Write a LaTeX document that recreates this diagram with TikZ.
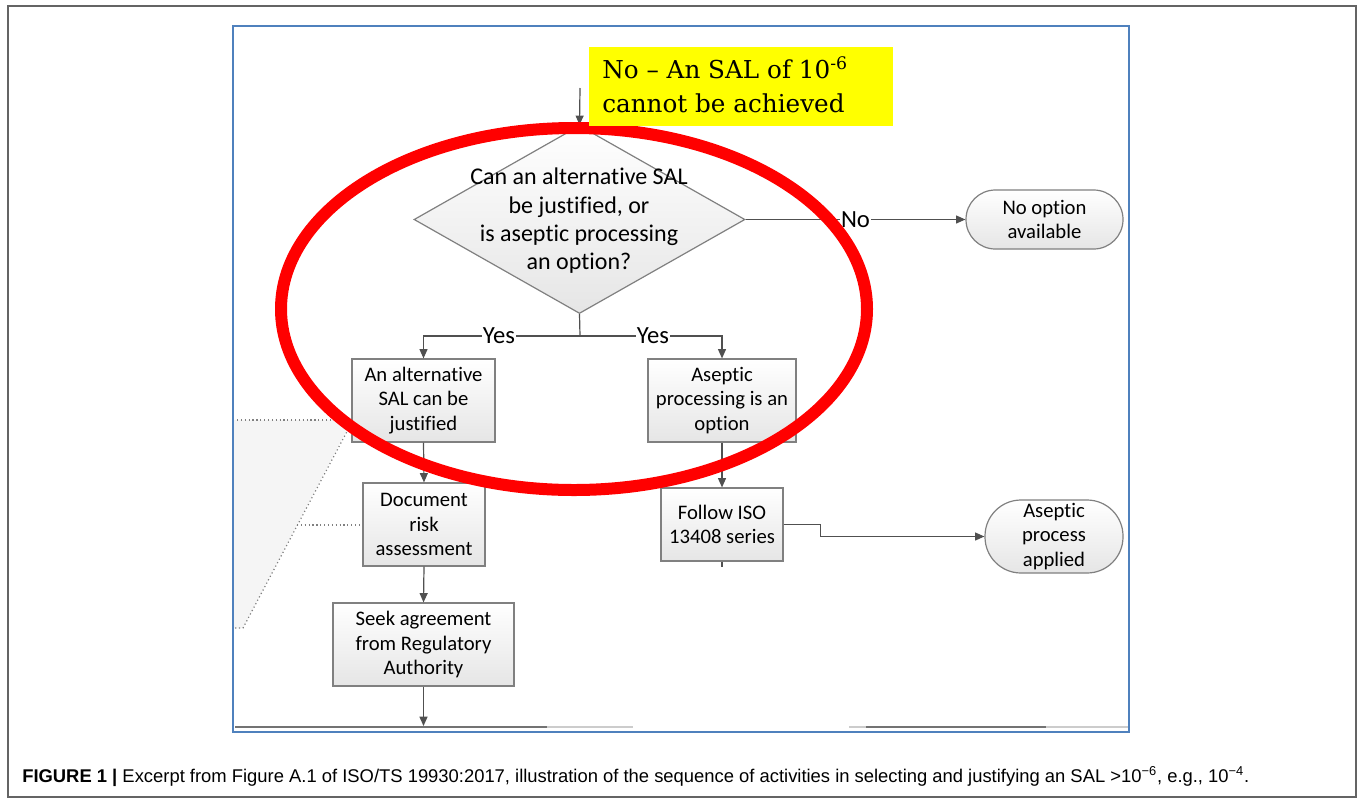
\documentclass[tikz,border=0pt]{standalone}
\usepackage{fontspec}
\setmainfont{Liberation Serif}
\newfontfamily\calib[Ligatures=NoCommon]{Carlito}
\newfontfamily\capfont{Liberation Sans}
\newfontfamily\notefont{DejaVu Serif}
\usetikzlibrary{arrows.meta,shapes.geometric,calc}
\definecolor{bordergray}{RGB}{128,128,128}
\definecolor{linegray}{RGB}{80,80,80}
\definecolor{frameblue}{RGB}{79,129,189}
\definecolor{outergray}{RGB}{100,100,100}
\definecolor{noteyellow}{RGB}{255,255,0}
\definecolor{ringred}{RGB}{255,0,0}
\tikzset{
  stepbox/.style={draw=bordergray, line width=0.9pt, top color=white, bottom color=black!10,
    align=center, inner sep=0pt, font=\calib\fontsize{15.5}{18.4}\selectfont},
  termbox/.style={stepbox, rounded corners=#1},
  conn/.style={draw=linegray, line width=0.9pt},
  arr/.style={conn, -{Triangle[length=7pt,width=6pt]}},
  lbl/.style={fill=white, inner sep=1pt, font=\calib\fontsize{18.5}{20}\selectfont},
  dots/.style={draw=gray, dotted, line width=0.9pt}
}
\begin{document}
\begin{tikzpicture}[x=0.75pt,y=-0.75pt]
\useasboundingbox (0,0) rectangle (1360,804);
\fill[white] (0,0) rectangle (1360,804);
% outer frame
\draw[outergray, line width=1.4pt] (8,6) rectangle (1356,797);
% blue frame
\draw[frameblue, line width=2.2pt] (233,26) rectangle (1129,732);
% left dotted region
\fill[black!4] (234,420) -- (352,420) -- (243,628) -- (234,628) -- cycle;
\draw[dots] (352,422) -- (243,628) -- (235,628);
% bottom cut lines
\draw[black!20, line width=0.8pt] (235,727) -- (633,727);
\draw[black!55, line width=0.9pt] (235,727) -- (547,727);
\draw[black!20, line width=0.8pt] (849,727) -- (1128,727);
\draw[black!55, line width=0.9pt] (866,727) -- (1046,727);
% diamond
\node[diamond, draw=bordergray, line width=0.9pt, top color=white, bottom color=black!10,
  minimum width=248.25pt, minimum height=141pt, inner sep=0pt] (q) at (579.5,219.5) {};
\node[align=center, inner sep=0pt, font=\calib\fontsize{18}{21.25}\selectfont] (qt) at (579,221)
  {Can an alternative SAL\\be justified, or\\is aseptic processing\\an option?};
% boxes
\node[stepbox, minimum width=107.25pt, minimum height=62.25pt] (just) at (423.5,400.5)
  {An alternative\\SAL can be\\justified};
\node[stepbox, minimum width=111pt, minimum height=62.25pt] (asep) at (722,400.5)
  {Aseptic\\processing is an\\option};
\node[stepbox, minimum width=91.5pt, minimum height=62.25pt] (doc) at (424,524.5)
  {Document\\risk\\assessment};
\node[stepbox, minimum width=135.75pt, minimum height=62.25pt] (seek) at (423.5,644.5)
  {Seek agreement\\from Regulatory\\Authority};
\node[stepbox, minimum width=91.5pt, minimum height=54.75pt] (follow) at (722,524.5)
  {Follow ISO\\13408 series};
\node[termbox=22pt, minimum width=117.75pt, minimum height=44.25pt] (noopt) at (1044.5,219.5)
  {No option\\available};
\node[termbox=27pt, minimum width=103.5pt, minimum height=54.75pt] (applied) at (1054,536.5)
  {Aseptic\\process\\applied};
\draw[dots] (237,420) -- (just.west |- 0,420);
\draw[dots] (297,525) -- (doc.west |- 0,525);
% connectors
\coordinate (tin) at (580,88);
\draw[arr] (tin) -- (q.north);
\draw[arr] (q.east) -- node[lbl, pos=0.5] {No} (noopt.west);
\coordinate (split) at (580,336);
\draw[conn] (q.south) -- (split);
\draw[arr] (split) -| node[lbl, pos=0.259] {Yes} (just.north);
\draw[arr] (split) -| node[lbl, pos=0.257] {Yes} (asep.north);
\draw[arr] (just.south) -- (doc.north);
\draw[arr] (doc.south) -- (seek.north);
\coordinate (endc) at (423.5,726);
\draw[arr] (seek.south) -- (endc);
\draw[arr] (asep.south) -- (follow.north);
\draw[arr] (follow.east) -- ++(37,0) |- (applied.west);
\draw[conn] (follow.south) -- ++(0,5);
% red ring
\draw[ringred, line width=9pt] (574,309) ellipse [x radius=219.75pt, y radius=135.75pt];
% yellow note
\node[fill=noteyellow, minimum width=228pt, minimum height=59.25pt, inner sep=0pt] (note) at (741,86.5) {};
\node[anchor=base west, inner sep=0pt, align=left, font=\notefont\fontsize{18.5}{25.5}\selectfont] (notetext) at (602,112)
  {No – An SAL of 10\textsuperscript{-6}\\cannot be achieved};
% caption
\node[anchor=west, inner sep=0pt, font=\capfont\fontsize{13.8}{16}\selectfont] (cap) at (22,777)
  {\textbf{FIGURE 1 |} Excerpt from Figure A.1 of ISO/TS 19930:2017, illustration of the sequence of activities in selecting and justifying an SAL >10\textsuperscript{−6}, e.g., 10\textsuperscript{−4}.};
\end{tikzpicture}
\end{document}
